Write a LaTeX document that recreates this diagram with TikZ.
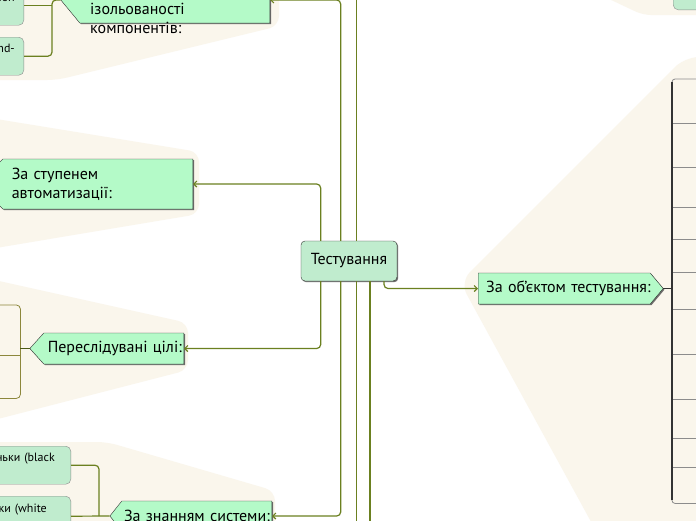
\documentclass[tikz,border=0pt]{standalone}
\usepackage{fontspec}
\setmainfont{PT Sans}
\usetikzlibrary{arrows.meta,positioning,shapes.symbols,shadows}

\definecolor{mapline}{RGB}{107,128,32}
\definecolor{mapcream}{RGB}{250,246,236}
\definecolor{mapgreen}{RGB}{180,250,200}
\definecolor{mapmint}{RGB}{192,236,206}
\definecolor{mapedge}{RGB}{51,51,51}
\definecolor{mapbox}{RGB}{140,135,60}

\begin{document}
\begin{tikzpicture}[x=1pt,y=-1pt,>={Straight Barb[length=3pt,width=6pt]},font=\fontsize{16}{19}\selectfont]
  \tikzstyle{topic}=[signal,draw=mapedge,fill=mapgreen,signal pointer angle=100,inner ysep=0pt,align=left,drop shadow={shadow xshift=1.2pt,shadow yshift=-1.2pt,fill=black!70,opacity=0.8}]
  \tikzstyle{root}=[draw=mapedge,fill=mapmint,rounded corners=4pt,minimum width=96pt,minimum height=40pt,drop shadow={shadow xshift=1.2pt,shadow yshift=-1.2pt,fill=black!70,opacity=0.8}]
  \tikzstyle{leaf}=[draw=black!45,fill=mapmint,rounded corners=5pt,anchor=north east,inner xsep=9pt,text height=9pt,text depth=17pt,font=\fontsize{12}{15}\selectfont]
  \tikzstyle{slot}=[anchor=north west,minimum width=60pt,inner sep=0pt]
  \tikzstyle{link}=[mapline,line width=1.2pt,rounded corners=4pt]
  \useasboundingbox (0,0) rectangle (696,520);
  \clip (0,0) rectangle (696,520);
  \fill[white] (0,0) rectangle (696,520);
  % grouped areas
  \fill[mapcream,rounded corners=10pt] (-10,-10) -- (279,-10) -- (279,26) -- (57,80) -- (-10,80) -- cycle;
  \fill[mapcream,rounded corners=10pt] (-10,118) -- (199,152) -- (199,214) -- (-10,249) -- cycle;
  \fill[mapcream,rounded corners=10pt] (-10,279) -- (188,323) -- (188,370) -- (-10,421) -- cycle;
  \fill[mapcream,rounded corners=10pt] (-10,442) -- (107,442) -- (275,491) -- (275,540) -- (-10,540) -- cycle;
  \fill[mapcream,rounded corners=14pt] (460,282) -- (685,57) -- (720,57) -- (720,540) -- (601,540) -- cycle;
  \fill[mapcream,rounded corners=8pt] (590,-10) -- (643,15) -- (720,15) -- (720,-10) -- cycle;

  \node[root] (test) at (349,261) {Тестування};
  \node[topic,signal to=west,anchor=east,text width=174pt,inner xsep=8pt,minimum height=46pt,signal pointer angle=101] (izol) at (270,0) {};
  \node[anchor=west,align=left,inner sep=0pt] (izoltext) at (90,9) {За ступенем\\ізольованості\\компонентів:};
  \node[topic,signal to=west,anchor=east,text width=172pt,inner xsep=9pt,minimum height=50pt,signal pointer angle=90] (auto) at (193,184) {За ступенем\\автоматизації:};
  \node[topic,signal to=west,anchor=east,text width=136pt,inner xsep=2pt,minimum height=31pt,signal pointer angle=96,align=right] (peresl) at (184,348.5) {Переслідувані цілі:};
  \node[topic,signal to=west,anchor=east,text width=146pt,inner xsep=2pt,minimum height=30pt,signal pointer angle=103,align=right] (znann) at (272,516) {За знанням системи:};
  \node[topic,signal to=east,anchor=west,text width=156pt,inner xsep=8pt,minimum height=31pt] (objekt) at (478,288.5) {\mbox{За об’єктом тестування:}};

  % children, mostly outside the view
  \node[leaf,text width=60pt,align=right,minimum height=40pt] (izolA) at (24,-15) {Integration};
  \node[leaf,text width=60pt,align=right,minimum height=38pt] (izolB) at (24,37) {End-};
  \node[leaf,text width=110pt,align=right,minimum height=38pt,inner xsep=16pt] (znannC) at (71,446) {скриньки (black};
  \node[leaf,text width=110pt,align=right,minimum height=40pt,inner xsep=24pt] (znannD) at (71,496) {скриньки (white};
  \node[leaf,anchor=south west,minimum width=50pt,minimum height=40pt] (corner) at (673,10) {};
  \node[slot,minimum height=50pt] (pA) at (-40,305) {};
  \node[slot,minimum height=43pt] (pB) at (-40,355) {};
  \foreach \ya/\yb [count=\i] in {79/123,123/167,167/207,207/239,239/272,272/309,309/354,354/399,399/438,438/467,467/503}
    \node[slot,minimum height={(\yb-\ya)*1pt}] (obj\i) at (672,\ya) {};

  \draw[mapbox,line width=0.8pt,rounded corners=4pt] (pA.north west) -- (pA.north east) -- (pB.south east) -- (pB.south west);
  \draw[mapbox,line width=0.8pt] (pA.south west) -- (pA.south east);
  \foreach \i in {1,...,10}
    \draw[black!45,line width=0.8pt] (obj\i.south west) -- (obj\i.south east);
  \draw[black!45,line width=0.8pt,rounded corners=3pt] (obj1.north east) -- (obj1.north west) -- (obj11.south west) -- (obj11.south east);
  \draw[mapedge,line width=1.2pt] ([yshift=-3pt]obj1.north west) -- ([yshift=3pt]obj11.south west);

  % connectors
  \coordinate (upout) at (356.7,-20);
  \coordinate (downA) at (356.7,540);
  \coordinate (downB) at (370,540);
  \coordinate (izolbar) at (52,0);
  \coordinate (znbar) at (99,516);
  \draw[link,->] ([xshift=-28.3pt]test.north) |- (auto.east);
  \draw[link,->] ([xshift=-8.3pt]test.north) |- (izol.east);
  \draw[link] (test.north -| upout) -- (upout);
  \draw[link,->] ([xshift=-28.3pt]test.south) |- (peresl.east);
  \draw[link,->] ([xshift=-8.3pt]test.south) |- (znann.east);
  \draw[link] (test.south -| downA) -- (downA);
  \draw[link] (test.south -| downB) -- (downB);
  \draw[link,->] ([xshift=35pt]test.south) |- (objekt.west);
  \draw[mapedge,line width=1.2pt] (objekt.east) -- (objekt.east -| obj6.west);
  \draw[mapline!70!black,line width=1.2pt] (peresl.west) -- (peresl.west -| pA.east);
  \draw[link] (izol.west) -- (izolbar) |- (izolB.east);
  \draw[link] (izolA.east) -- (izolA.east -| izolbar);
  \draw[link] (znann.west) -- (znannD.east);
  \draw[link] (znannC.east) -| (znbar);
\end{tikzpicture}
\end{document}
